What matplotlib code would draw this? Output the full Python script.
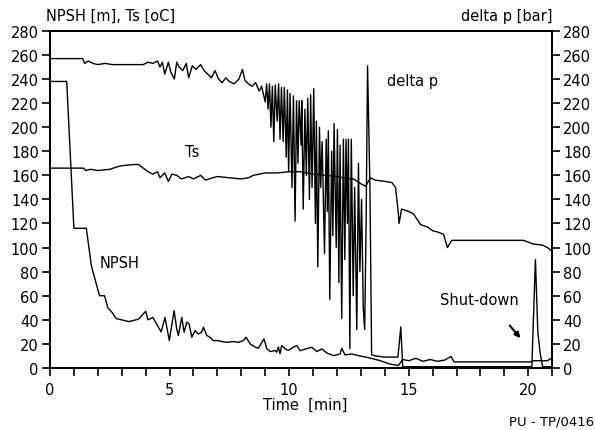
"""
plot.py — NPSH, Ts and delta p against time, shut-down test.
"""

import matplotlib
matplotlib.use("Agg")
import matplotlib.pyplot as plt

# ── Data ──────────────────────────────────────────────────────────────────────

# delta p [bar]
dp_t = [0.0, 1.37, 1.45, 1.6, 1.8, 2.0, 2.3, 2.6, 3.0, 3.5, 3.9, 4.1, 4.3, 4.5,
        4.6, 4.7, 4.8, 4.95, 5.05, 5.2, 5.3, 5.4, 5.55, 5.7, 5.8, 5.95, 6.1,
        6.3, 6.45, 6.6, 6.75, 6.9, 7.05, 7.2, 7.35, 7.5, 7.7, 7.9, 8.05, 8.15,
        8.3, 8.45, 8.6, 8.75, 8.85,
        9.00, 9.06, 9.12, 9.18, 9.24, 9.30, 9.36, 9.42, 9.50, 9.56, 9.62,
        9.68, 9.75, 9.80, 9.88, 9.93, 9.98, 10.04, 10.12, 10.18, 10.25, 10.31,
        10.37, 10.42, 10.50, 10.53, 10.59, 10.66, 10.72, 10.78, 10.85, 10.90,
        10.96, 11.03, 11.10, 11.14, 11.20, 11.27, 11.32, 11.38, 11.48, 11.55,
        11.60, 11.64, 11.70, 11.78, 11.83, 11.88, 11.97, 12.02, 12.08, 12.13,
        12.20, 12.27, 12.33, 12.38, 12.44, 12.48, 12.54, 12.60, 12.68, 12.74,
        12.83, 12.90, 12.96, 13.03, 13.10, 13.16, 13.22, 13.28, 13.33, 13.38,
        13.45, 13.6, 14.0, 14.55, 14.67, 14.75, 16.0,
        20.15, 20.3, 20.35, 20.4, 20.5, 20.6, 21.0]
dp_v = [257, 257, 253, 255, 253, 252, 253, 252, 252, 252, 252, 254, 253, 255,
        250, 254, 244, 254, 246, 240, 254, 250, 247, 253, 241, 251, 248,
        252, 247, 244, 241, 247, 240, 237, 241, 238, 236, 240, 248, 239,
        236, 234, 237, 230, 234,
        221, 236, 215, 236, 200, 234, 188, 235, 205, 236, 190,
        233, 188, 233, 175, 231, 163, 228, 150, 226, 122, 222,
        170, 222, 185, 222, 132, 215, 160, 224, 140, 227,
        150, 232, 120, 205, 84, 200, 150, 188, 95, 190,
        130, 197, 57, 180, 110, 203, 100, 198, 71, 185,
        41, 190, 90, 190, 120, 190, 16, 190, 60, 150,
        32, 170, 80, 140, 50, 32, 120, 251, 200, 150,
        11, 10, 9, 9, 34, 1, 1,
        1, 90, 60, 30, 12, 1, 1]

# Ts [oC]
ts_t = [0.0, 1.4, 1.5, 1.7, 2.0, 2.5, 2.8, 3.0, 3.5, 3.7, 3.9, 4.1, 4.3, 4.5,
        4.6, 4.8, 4.95, 5.1, 5.3, 5.5, 5.8, 6.0, 6.3, 6.5, 6.8, 7.0, 7.5, 8.0,
        8.3, 8.5, 9.0, 9.5, 10.0, 10.5, 11.0, 11.5, 12.0, 12.5, 12.7, 13.0,
        13.2, 13.4, 13.6, 14.0, 14.3, 14.45, 14.55, 14.6, 14.7, 15.0, 15.2,
        15.5, 15.8, 16.0, 16.2, 16.46, 16.62, 16.8, 19.8, 20.2, 20.6, 20.8,
        21.0]
ts_v = [166, 166, 164, 165, 164, 165, 167, 168, 169, 169, 166, 163, 161, 163,
        158, 162, 155, 161, 160, 157, 159, 157, 160, 156, 158, 159, 158, 157,
        158, 160, 162, 162, 163, 163, 161, 160, 159, 157, 157, 153,
        151, 158, 156, 155, 154, 150, 132, 120, 132, 130, 128,
        119, 117, 114, 113, 111, 100, 106, 106, 103, 102, 100,
        97]

# NPSH [m]
npsh_t = [0.0, 0.7, 1.0, 1.52, 1.73, 2.07, 2.28, 2.42, 2.6, 2.77, 3.3, 3.7,
          4.0, 4.1, 4.3, 4.5, 4.65, 4.81, 4.99, 5.19, 5.30, 5.37, 5.51, 5.61,
          5.72, 5.82, 5.93, 6.07, 6.2, 6.34, 6.42, 6.56, 6.69, 6.83, 7.04,
          7.18, 7.39, 7.67, 7.88, 8.09, 8.2, 8.37, 8.58, 8.72, 8.86, 8.95,
          9.07, 9.21, 9.41, 9.48, 9.55, 9.62, 9.69, 9.83, 9.97, 10.18, 10.32,
          10.46, 10.95, 11.16, 11.37, 11.58, 11.86, 12.13, 12.2, 12.34, 12.62,
          12.9, 13.25, 13.53, 13.8, 14.2, 14.57, 14.75, 15.0, 15.3, 15.6, 15.9,
          16.2, 16.5, 16.77, 16.9, 20.1, 20.2, 20.8, 21.0]
npsh_v = [238, 238, 116, 116, 85, 60, 60, 50, 46, 41, 38.5, 40.5,
          47, 40, 42, 35, 30, 42, 22.7, 47.6, 32.4, 26.9, 42, 29.6,
          38, 36.5, 25.5, 31, 28.2, 29.6, 33.8, 26.9, 25.5, 22.7, 22.7,
          21.9, 21.3, 21.9, 21.3, 22.7, 25.5, 20, 17.3, 16.4, 21.3, 24.1,
          15.9, 13.6, 14.5, 13.1, 17.3, 11.8, 18.7, 15.9, 14.5, 17.2, 18.6,
          14.4, 17.2, 13.6, 15.8, 12.4, 10.2, 11.6, 16.3, 10.8, 11.6,
          10.2, 8.8, 7.5, 6.1, 3.3, 2, 7, 6, 8, 5.5, 7,
          5.5, 6.5, 9.5, 5, 5, 6, 6, 8.5]

y_ticks = list(range(0, 281, 20))
x_major = [0, 5, 10, 15, 20]
x_minor = list(range(0, 22))

# ── Figure ────────────────────────────────────────────────────────────────────

plt.rcParams["font.family"] = "DejaVu Sans"

fig = plt.figure(figsize=(5.95, 4.31), dpi=100)
ax = fig.add_axes([0.084, 0.144, 0.844, 0.782])

for t, v in [(dp_t, dp_v), (ts_t, ts_v), (npsh_t, npsh_v)]:
    ax.plot(t, v, color="black", lw=1.0)

ax.set_xlim(0, 21)
ax.set_ylim(0, 280)
ax.set_yticks(y_ticks)
ax.set_xticks(x_major)
ax.set_xticks(x_minor, minor=True)
ax.tick_params(axis="both", direction="out", length=6, width=1.2,
               labelsize=10.5, pad=2)
ax.tick_params(axis="x", which="minor", direction="out", length=6, width=1.2)
ax.tick_params(axis="x", pad=4)

ax2 = ax.twinx()
ax2.set_ylim(0, 280)
ax2.set_yticks(y_ticks)
ax2.tick_params(axis="y", direction="out", length=6, width=1.2,
                labelsize=10.5, pad=2)

for a in (ax, ax2):
    for s in a.spines.values():
        s.set_linewidth(1.3)

# Labels
fig.text(0.078, 0.962, "NPSH [m], Ts [oC]", fontsize=10.5, va="center")
fig.text(0.928, 0.962, "delta p [bar]", fontsize=10.5, va="center", ha="right")
fig.text(0.513, 0.06, "Time  [min]", fontsize=10.5, va="center", ha="center")
fig.text(0.998, 0.022, "PU - TP/0416", fontsize=9.5, va="center", ha="right")

ax.text(14.1, 239, "delta p", fontsize=10.5, va="center")
ax.text(5.65, 180, "Ts", fontsize=10.5, va="center")
ax.text(2.09, 88, "NPSH", fontsize=10.5, va="center")
ax.text(16.3, 57, "Shut-down", fontsize=10.5, va="center")
ax.annotate("", xy=(19.75, 23), xytext=(19.15, 37),
            arrowprops=dict(arrowstyle="-|>", color="black", lw=1.5,
                            mutation_scale=8))

fig.savefig("out.png", dpi=100)
plt.close(fig)
